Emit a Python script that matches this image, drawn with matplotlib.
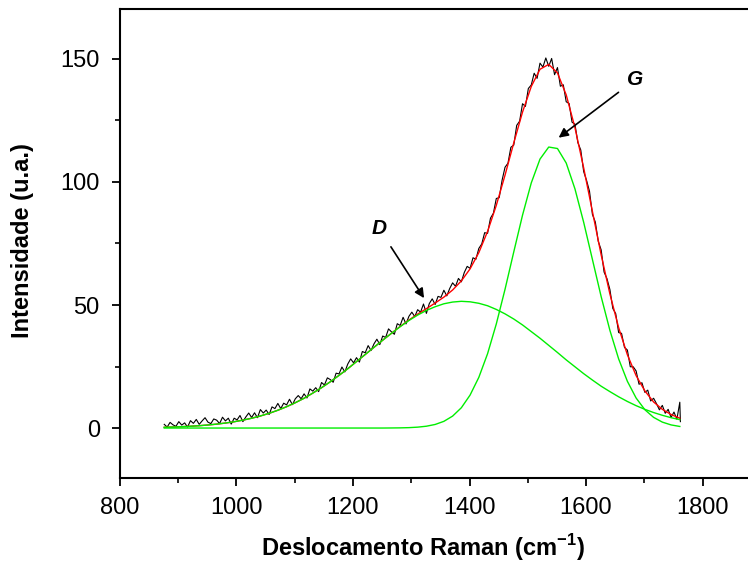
import numpy as np
import matplotlib
matplotlib.use("Agg")
import matplotlib.pyplot as plt
from matplotlib.ticker import MultipleLocator

plt.rcParams['font.family'] = ['Liberation Sans', 'DejaVu Sans']
plt.rcParams['mathtext.fontset'] = 'custom'
plt.rcParams['mathtext.bf'] = 'Liberation Sans:bold'
plt.rcParams['mathtext.rm'] = 'Liberation Sans'

# espectro medido (cm-1, u.a.)
x_raw = np.r_[np.arange(876, 1762, 5), 1762]
y_raw = [
    1.5, 0.4, 2.3, 1.3, 0.7, 2.6, 1.2, 2.1, 0.4, 3.0,
    1.9, 3.5, 1.5, 2.9, 4.2, 2.4, 1.8, 3.7, 3.2, 1.8,
    4.4, 2.9, 4.0, 1.6, 4.0, 3.3, 5.1, 2.6, 4.5, 6.1,
    4.3, 6.2, 4.2, 7.5, 6.1, 7.3, 5.5, 8.6, 7.9, 10.0,
    7.9, 10.1, 9.4, 11.7, 9.5, 11.9, 13.2, 11.9, 13.9, 12.2,
    15.9, 15.0, 16.4, 14.8, 18.5, 17.5, 20.4, 19.7, 18.6, 22.3,
    22.0, 24.8, 22.8, 26.0, 28.1, 26.5, 28.6, 26.8, 31.1, 30.6,
    33.5, 31.5, 34.2, 36.1, 33.9, 37.4, 36.8, 40.3, 39.1, 38.1,
    42.4, 41.7, 45.0, 42.3, 45.4, 47.1, 45.3, 48.1, 47.1, 50.4,
    46.6, 50.6, 52.5, 50.2, 53.5, 53.1, 56.0, 53.7, 56.7, 59.0,
    57.6, 60.8, 59.4, 63.2, 65.7, 64.9, 69.2, 68.6, 73.0, 74.8,
    79.4, 79.1, 85.3, 87.3, 93.3, 93.6, 100.8, 106.0, 107.6, 114.1,
    115.0, 123.0, 124.7, 131.8, 130.7, 138.0, 139.4, 144.2, 142.1, 148.3,
    146.7, 150.4, 147.0, 150.2, 143.6, 146.5, 138.9, 139.5, 132.6, 131.9,
    124.3, 123.5, 116.0, 113.0, 104.2, 100.6, 96.2, 86.8, 83.7, 75.9,
    72.4, 63.4, 60.7, 56.3, 48.6, 46.5, 38.8, 38.5, 32.8, 31.7,
    24.9, 24.9, 23.2, 17.8, 18.4, 14.5, 15.4, 11.0, 12.1, 9.9,
    7.4, 9.2, 6.0, 7.6, 4.3, 6.5, 3.6, 10.5, 2.6,
]

# ajuste: banda D, banda G e soma
x_fit = np.arange(876, 1762, 15)
y_D = [
    0.31, 0.41, 0.55, 0.73, 0.95, 1.24, 1.59, 2.03, 2.56, 3.21, 3.98, 4.90, 5.98, 7.23,
    8.67, 10.3, 12.1, 14.2, 16.4, 18.8, 21.4, 24.1, 27.0, 29.9, 32.8, 35.7, 38.5, 41.2,
    43.7, 45.9, 47.8, 49.3, 50.5, 51.2, 51.5, 51.3, 50.7, 49.7, 48.2, 46.4, 44.3, 41.9,
    39.2, 36.5, 33.6, 30.7, 27.7, 24.9, 22.1, 19.5, 17.0, 14.8, 12.7, 10.8, 9.09, 7.60,
    6.30, 5.18, 4.21, 3.40,
]
y_G = [
    0, 0, 0, 0, 0, 0, 0, 0, 0, 0, 0, 0, 0, 0,
    0, 0, 0, 0, 0, 0, 0, 0, 0, 0, 0, 0, 0.03, 0.07,
    0.16, 0.36, 0.74, 1.45, 2.72, 4.85, 8.25, 13.4, 20.6, 30.2, 42.3, 56.4, 71.6, 86.5,
    99.6, 109.3, 114.2, 113.6, 107.7, 97.2, 83.6, 68.5, 53.4, 39.7, 28.1, 19.0, 12.2, 7.45,
    4.34, 2.41, 1.27, 0.64,
]
y_sum = [
    0.31, 0.41, 0.55, 0.73, 0.95, 1.24, 1.59, 2.03, 2.56, 3.21, 3.98, 4.90, 5.98, 7.23,
    8.67, 10.3, 12.1, 14.2, 16.4, 18.8, 21.4, 24.1, 27.0, 29.9, 32.8, 35.7, 38.5, 41.3,
    43.9, 46.3, 48.5, 50.8, 53.2, 56.1, 59.8, 64.7, 71.3, 79.9, 90.5, 102.8, 115.9, 128.4,
    138.8, 145.8, 147.8, 144.3, 135.4, 122.1, 105.7, 88.0, 70.4, 54.5, 40.8, 29.8, 21.3, 15.1,
    10.6, 7.6, 5.5, 4.0,
]

fig = plt.figure(figsize=(7.48, 5.66), dpi=100)
ax = fig.add_axes([0.1604, 0.1555, 0.845, 0.8286])

ax.plot(x_raw, y_raw, color='black', lw=0.8)
ax.plot(x_fit, y_sum, color='#ff0000', lw=1.0)
ax.plot(x_fit, y_D, color='#00ee00', lw=1.0)
ax.plot(x_fit, y_G, color='#00ee00', lw=1.0)

ax.set_xlim(800, 1885)
ax.set_ylim(-20.3, 170.3)
ax.xaxis.set_major_locator(MultipleLocator(200))
ax.xaxis.set_minor_locator(MultipleLocator(100))
ax.yaxis.set_major_locator(MultipleLocator(50))
ax.yaxis.set_minor_locator(MultipleLocator(25))
ax.tick_params(which='major', direction='out', length=6, width=1.3, labelsize=17)
ax.tick_params(axis='x', which='major', pad=7.5)
ax.tick_params(axis='y', which='major', pad=8.5)
ax.tick_params(which='minor', direction='out', length=3.5, width=1.2)
ax.tick_params(top=False, right=False, which='both')
for s in ax.spines.values():
    s.set_linewidth(1.5)

ax.set_xlabel('Deslocamento Raman (cm$^{\\mathbf{-1}}$)', fontsize=17, fontweight='bold', labelpad=9.5)
ax.set_ylabel('Intensidade (u.a.)', fontsize=17, fontweight='bold', labelpad=19)
ax.xaxis.label.set_x(0.479)
ax.yaxis.label.set_y(0.507)

ax.annotate('D', xy=(1322, 52.8), xytext=(1245, 81),
            fontsize=15, fontweight='bold', fontstyle='italic', ha='center', va='center',
            arrowprops=dict(arrowstyle='-|>', color='black', lw=1.2, mutation_scale=14,
                            shrinkA=5, shrinkB=0))
ax.annotate('G', xy=(1553, 118), xytext=(1684, 141.5),
            fontsize=15, fontweight='bold', fontstyle='italic', ha='center', va='center',
            arrowprops=dict(arrowstyle='-|>', color='black', lw=1.2, mutation_scale=14,
                            shrinkA=5, shrinkB=0))

fig.savefig('out.png', dpi=100)
